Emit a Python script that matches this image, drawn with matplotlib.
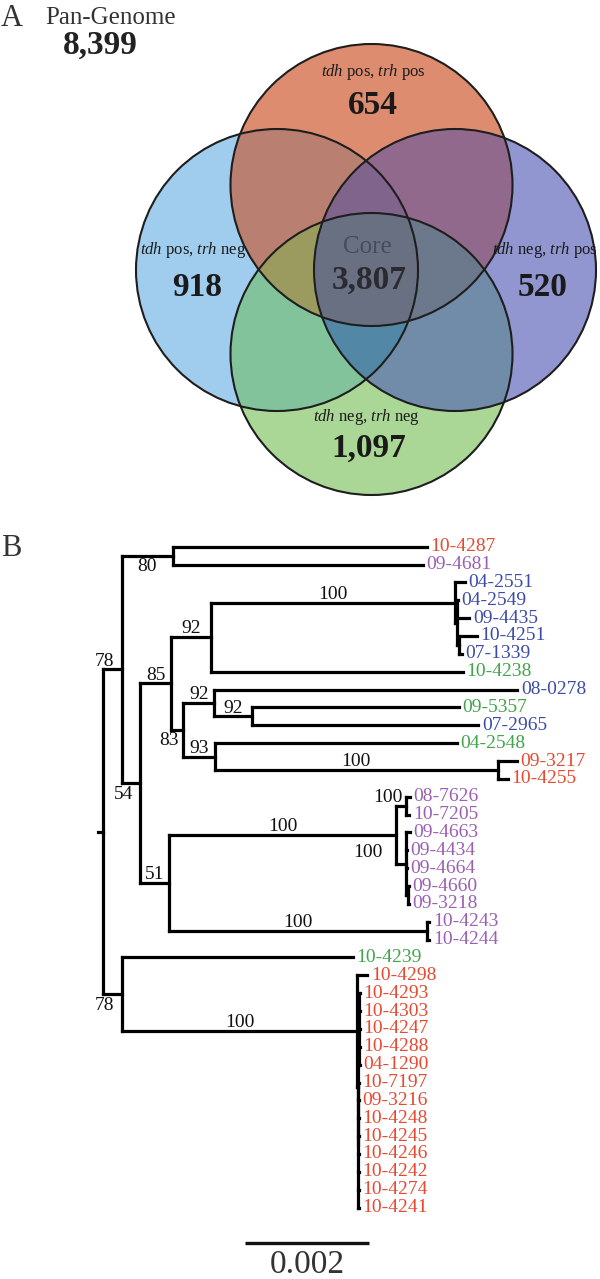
import matplotlib
matplotlib.use("Agg")
import matplotlib.pyplot as plt
import numpy as np
from itertools import combinations
from matplotlib.collections import LineCollection
from matplotlib.patches import Polygon, Circle

plt.rcParams['font.family'] = ['Liberation Serif', 'DejaVu Serif']
plt.rcParams['mathtext.fontset'] = 'custom'
plt.rcParams['mathtext.rm'] = 'Liberation Serif'
plt.rcParams['mathtext.it'] = 'Liberation Serif:italic'
plt.rcParams['mathtext.bf'] = 'Liberation Serif:bold'

# ---------------- data ----------------
pan_genome = 8399
core_genome = 3807
venn_keys = ['T', 'L', 'R', 'B']                     # top, left, right, bottom
venn_states = [('pos', 'pos'), ('pos', 'neg'), ('neg', 'pos'), ('neg', 'neg')]  # (tdh, trh)
venn_unique = [654, 918, 520, 1097]

# phylogeny (branch lengths in substitutions/site, internal labels = bootstrap)
newick = """((
(10-4287:0.004087,09-4681:0.004032)80:0.000811,
((
((04-2551:0.000161,(04-2549:0.000016,09-4435:0.000198,(10-4251:0.000285,07-1339:0.000043):0.000032):0.000032)100:0.003926,10-4238:0.004050)92:0.000644,
((08-0278:0.004875,(09-5357:0.003336,07-2965:0.003646)92:0.000602)92:0.000499,(04-2548:0.003889,(09-3217:0.000306,10-4255:0.000161)100:0.004549)93:0.000510)83:0.000198
)85:0.000499,
(((08-7626:0.000064,10-7205:0.000053)100:0.000161,(09-4663:0.000064,09-4434:0.000016,09-4664:0.000016,(09-4660:0.000016,09-3218:0.000016):0.000032)100:0.000161)100:0.003648,
(10-4243:0.000042,10-4244:0.000042)100:0.004142)51:0.000471
)54:0.000285
)78:0.000315,
(10-4239:0.003707,(10-4298:0.000171,((10-4293:0.000024,10-4303:0.000024,10-4247:0.000024,10-4288:0.000024,04-1290:0.000024):0.000016,
(10-7197:0.000016,09-3216:0.000016,10-4248:0.000016,10-4245:0.000016,10-4246:0.000016,10-4242:0.000016,10-4274:0.000016,10-4241:0.000016):0.000003):0.000013)100:0.003772)78:0.000315);"""

group_red = ['10-4287', '09-3217', '10-4255', '10-4298', '10-4293', '10-4303', '10-4247', '10-4288',
             '04-1290', '10-7197', '09-3216', '10-4248', '10-4245', '10-4246', '10-4242', '10-4274', '10-4241']
group_purple = ['09-4681', '08-7626', '10-7205', '09-4663', '09-4434', '09-4664', '09-4660', '09-3218',
                '10-4243', '10-4244']
group_blue = ['04-2551', '04-2549', '09-4435', '10-4251', '07-1339', '08-0278', '07-2965']
group_green = ['10-4238', '09-5357', '04-2548', '10-4239']
scale_length = 0.002

# ---------------- figure ----------------
W, H = 600, 1279
fig = plt.figure(figsize=(W / 100, H / 100), dpi=100)
fig.patch.set_facecolor('white')

# ---- Panel A : Venn ----
axv = fig.add_axes([0, 0, 1, 1], facecolor='none')
axv.set_xlim(0, W)
axv.set_ylim(H, 0)
axv.axis('off')

R0 = 141
centers = {'T': (371.5, 185), 'L': (277, 270), 'R': (455, 270), 'B': (371.5, 354)}
region_colors = {
    'T': '#DE8C70', 'L': '#A0CDED', 'R': '#9196D0', 'B': '#AAD796',
    'TL': '#B97F70', 'TR': '#91698C', 'LB': '#82C39B', 'RB': '#708CA8',
    'TB': '#8A8A90', 'LR': '#7D84A8',
    'TLB': '#9B9B5F', 'TLR': '#80648C', 'TRB': '#6C788C', 'LRB': '#5287A5',
    'TLRB': '#687082',
}


def circle_poly(c, r, n=400):
    t = np.linspace(0, 2 * np.pi, n, endpoint=False)
    return [(c[0] + r * np.cos(a), c[1] + r * np.sin(a)) for a in t]


def clip_poly(subject, clipper):
    def inside(p, a, b):
        return (b[0] - a[0]) * (p[1] - a[1]) - (b[1] - a[1]) * (p[0] - a[0]) >= 0

    def inter(p, q, a, b):
        x1, y1 = p; x2, y2 = q; x3, y3 = a; x4, y4 = b
        den = (x1 - x2) * (y3 - y4) - (y1 - y2) * (x3 - x4)
        t = ((x1 - x3) * (y3 - y4) - (y1 - y3) * (x3 - x4)) / den
        return (x1 + t * (x2 - x1), y1 + t * (y2 - y1))

    out = subject
    for i in range(len(clipper)):
        a, b = clipper[i], clipper[(i + 1) % len(clipper)]
        inp = out
        out = []
        if not inp:
            break
        s = inp[-1]
        for e in inp:
            if inside(e, a, b):
                if not inside(s, a, b):
                    out.append(inter(s, e, a, b))
                out.append(e)
            elif inside(s, a, b):
                out.append(inter(s, e, a, b))
            s = e
    return out


polys = {k: circle_poly(centers[k], R0) for k in venn_keys}
for size in range(1, 5):
    for combo in combinations(venn_keys, size):
        name = ''.join(combo)
        p = polys[combo[0]]
        for k in combo[1:]:
            p = clip_poly(p, polys[k])
        if len(p) >= 3:
            axv.add_patch(Polygon(p, closed=True, facecolor=region_colors[name],
                                  edgecolor='none', zorder=size))
for k in venn_keys:
    axv.add_patch(Circle(centers[k], R0, fill=False, edgecolor='#1e1e1e', lw=1.5, zorder=10))

lab_pos = {'T': (373, 72, 'center'), 'L': (140, 250, 'left'), 'R': (598, 250, 'right'),
           'B': (366, 417, 'center')}
num_pos = {'T': (373, 105), 'L': (197, 288), 'R': (543, 288), 'B': (369, 448)}
for k, st, n in zip(venn_keys, venn_states, venn_unique):
    x, y, ha = lab_pos[k]
    axv.text(x, y, r'$\mathit{tdh}$ ' + st[0] + r', $\mathit{trh}$ ' + st[1],
             fontsize=12, ha=ha, va='center', color='#1a1a1a', zorder=20)
    nx, ny = num_pos[k]
    axv.text(nx, ny, f'{n:,}', fontsize=24, fontweight='bold', ha='center', va='center',
             color='#1a1a1a', zorder=20)
axv.text(367, 247, 'Core', fontsize=18, ha='center', va='center', color='#474c5c', zorder=20)
axv.text(369, 280, f'{core_genome:,}', fontsize=24, fontweight='bold', ha='center', va='center',
         color='#2a2a30', zorder=20)
axv.text(1, 18, 'A', fontsize=22, ha='left', va='center', color='#333333')
axv.text(45, 18, 'Pan-Genome', fontsize=18, ha='left', va='center', color='#333333')
axv.text(100, 45, f'{pan_genome:,}', fontsize=24, fontweight='bold', ha='center', va='center',
         color='#222222')
axv.text(1, 549, 'B', fontsize=22, ha='left', va='center', color='#333333')


# ---- Panel B : tree ----
def parse_newick(s):
    s = ''.join(s.split())
    pos = 0

    def node():
        nonlocal pos
        children = []
        if s[pos] == '(':
            pos += 1
            children.append(node())
            while s[pos] == ',':
                pos += 1
                children.append(node())
            pos += 1
        start = pos
        while pos < len(s) and s[pos] not in ':,();':
            pos += 1
        label = s[start:pos]
        length = 0.0
        if pos < len(s) and s[pos] == ':':
            pos += 1
            start = pos
            while pos < len(s) and s[pos] not in ',();':
                pos += 1
            length = float(s[start:pos])
        return {'label': label, 'len': length, 'children': children}

    return node()


tree = parse_newick(newick)
leaf_counter = [0]


def layout(nd, x):
    nd['x'] = x
    if not nd['children']:
        nd['y'] = leaf_counter[0]
        leaf_counter[0] += 1
    else:
        for c in nd['children']:
            layout(c, x + c['len'])
        nd['y'] = 0.5 * (nd['children'][0]['y'] + nd['children'][-1]['y'])


layout(tree, 0.0)

X0 = 102.7                 # pixel x of root
PX_PER_SUB = 124.3 / 0.002
Y0, DY = 546.7, 17.86      # pixel y of first leaf, leaf spacing
axt = fig.add_axes([0, 0, 1, 1], facecolor='none')
axt.set_xlim(-X0 / PX_PER_SUB, (W - X0) / PX_PER_SUB)
axt.set_ylim((H - Y0) / DY, -Y0 / DY)
axt.axis('off')

leaf_color = {}
for g, col in [(group_red, '#E84830'), (group_purple, '#9B5FB4'), (group_blue, '#3C4BAA'),
               (group_green, '#41A54B')]:
    for n in g:
        leaf_color[n] = col

segs = []
below = {('80', '10-4287'), ('54', '04-2551'), ('83', '08-0278'), ('78', '10-4239')}
shift_left = {('100', '09-4663')}


def first_leaf(nd):
    while nd['children']:
        nd = nd['children'][0]
    return nd['label']


def draw(nd, px):
    if px is not None:
        segs.append([(px, nd['y']), (nd['x'], nd['y'])])
    if nd['children']:
        segs.append([(nd['x'], nd['children'][0]['y']), (nd['x'], nd['children'][-1]['y'])])
        for c in nd['children']:
            draw(c, nd['x'])
        lab = nd['label']
        if lab and px is not None:
            key = (lab, first_leaf(nd))
            bl_px = nd['len'] * PX_PER_SUB
            w_px = len(lab) * 9.7
            mid = 0.5 * (px + nd['x'])
            dy = -8.0 if key in below else 6.0
            if key in shift_left:
                axt.annotate(lab, (nd['x'], nd['y']), xytext=(-17, 8), textcoords='offset points',
                             ha='right', va='center', fontsize=14, color='#111111')
            elif bl_px < w_px + 2:
                axt.annotate(lab, (mid, nd['y']), xytext=(1.5, dy), textcoords='offset points',
                             ha='right', va='center', fontsize=14, color='#111111')
            else:
                axt.annotate(lab, (mid, nd['y']), xytext=(0, dy), textcoords='offset points',
                             ha='center', va='center', fontsize=14, color='#111111')
    else:
        axt.annotate(nd['label'], (nd['x'], nd['y']), xytext=(2.5, 0), textcoords='offset points',
                     ha='left', va='center', fontsize=14, color=leaf_color[nd['label']])


draw(tree, None)
# root stub
segs.append([(-4.4 / PX_PER_SUB, tree['y']), (0, tree['y'])])
axt.add_collection(LineCollection(segs, colors='black', linewidths=2.3, capstyle='projecting'))

# scale bar
sb_x = (245 - X0) / PX_PER_SUB
sb_y = (1242.7 - Y0) / DY
axt.plot([sb_x, sb_x + scale_length], [sb_y, sb_y], color='#111111', lw=2.4,
         solid_capstyle='butt')
axt.annotate(f'{scale_length}', (sb_x + scale_length / 2, sb_y), xytext=(0, -16),
             textcoords='offset points', ha='center', va='center', fontsize=24, color='#333333')

fig.savefig('out.png', dpi=100, facecolor='white')
